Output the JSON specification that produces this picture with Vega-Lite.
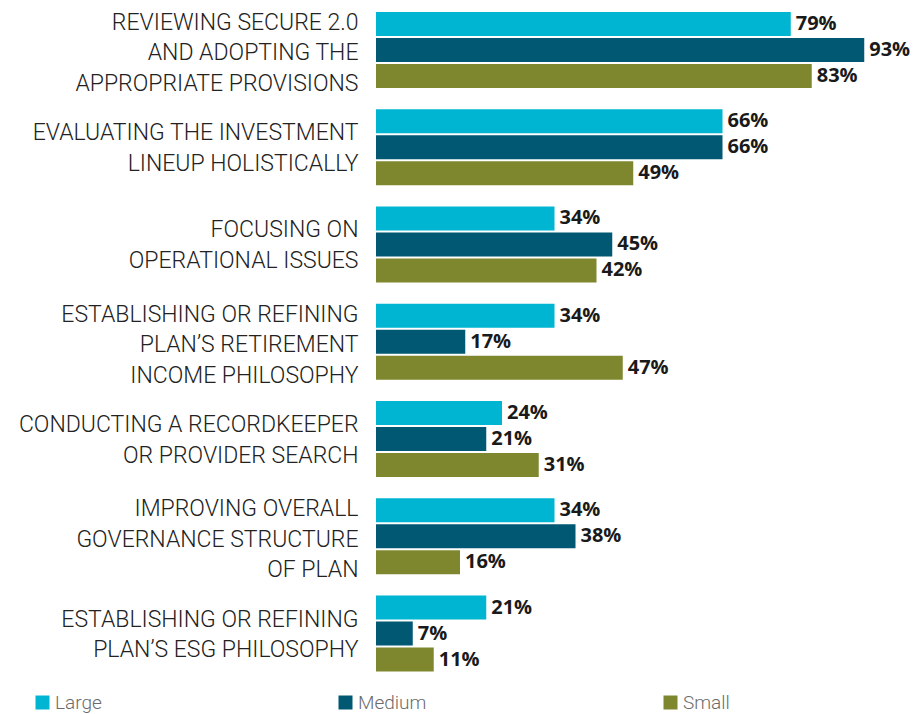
{
  "$schema": "https://vega.github.io/schema/vega-lite/v6.json",
  "width": 525,
  "height": 683.5,
  "autosize": {"type": "none"},
  "padding": {"left": 376, "top": 0, "right": 12, "bottom": 30.5},
  "background": "white",
  "config": {"view": {"stroke": null}, "font": "Roboto"},
  "data": {
    "values": [
      {"cat": "REVIEWING SECURE 2.0|AND ADOPTING THE|APPROPRIATE PROVISIONS", "size": "Large", "value": 0.79},
      {"cat": "REVIEWING SECURE 2.0|AND ADOPTING THE|APPROPRIATE PROVISIONS", "size": "Medium", "value": 0.93},
      {"cat": "REVIEWING SECURE 2.0|AND ADOPTING THE|APPROPRIATE PROVISIONS", "size": "Small", "value": 0.83},
      {"cat": "EVALUATING THE INVESTMENT|LINEUP HOLISTICALLY", "size": "Large", "value": 0.66},
      {"cat": "EVALUATING THE INVESTMENT|LINEUP HOLISTICALLY", "size": "Medium", "value": 0.66},
      {"cat": "EVALUATING THE INVESTMENT|LINEUP HOLISTICALLY", "size": "Small", "value": 0.49},
      {"cat": "FOCUSING ON|OPERATIONAL ISSUES", "size": "Large", "value": 0.34},
      {"cat": "FOCUSING ON|OPERATIONAL ISSUES", "size": "Medium", "value": 0.45},
      {"cat": "FOCUSING ON|OPERATIONAL ISSUES", "size": "Small", "value": 0.42},
      {"cat": "ESTABLISHING OR REFINING|PLAN’S RETIREMENT|INCOME PHILOSOPHY", "size": "Large", "value": 0.34},
      {"cat": "ESTABLISHING OR REFINING|PLAN’S RETIREMENT|INCOME PHILOSOPHY", "size": "Medium", "value": 0.17},
      {"cat": "ESTABLISHING OR REFINING|PLAN’S RETIREMENT|INCOME PHILOSOPHY", "size": "Small", "value": 0.47},
      {"cat": "CONDUCTING A RECORDKEEPER|OR PROVIDER SEARCH", "size": "Large", "value": 0.24},
      {"cat": "CONDUCTING A RECORDKEEPER|OR PROVIDER SEARCH", "size": "Medium", "value": 0.21},
      {"cat": "CONDUCTING A RECORDKEEPER|OR PROVIDER SEARCH", "size": "Small", "value": 0.31},
      {"cat": "IMPROVING OVERALL|GOVERNANCE STRUCTURE|OF PLAN", "size": "Large", "value": 0.34},
      {"cat": "IMPROVING OVERALL|GOVERNANCE STRUCTURE|OF PLAN", "size": "Medium", "value": 0.38},
      {"cat": "IMPROVING OVERALL|GOVERNANCE STRUCTURE|OF PLAN", "size": "Small", "value": 0.16},
      {"cat": "ESTABLISHING OR REFINING|PLAN’S ESG PHILOSOPHY", "size": "Large", "value": 0.21},
      {"cat": "ESTABLISHING OR REFINING|PLAN’S ESG PHILOSOPHY", "size": "Medium", "value": 0.07},
      {"cat": "ESTABLISHING OR REFINING|PLAN’S ESG PHILOSOPHY", "size": "Small", "value": 0.11}
    ]
  },
  "encoding": {
    "y": {
      "field": "cat", "type": "nominal", "sort": null,
      "scale": {"paddingInner": 0.2185, "paddingOuter": 0.123},
      "axis": {
        "title": null, "domain": false, "ticks": false,
        "labelExpr": "split(datum.label, '|')",
        "labelFontSize": 23, "labelColor": "#222222", "labelFont": "Roboto", "labelFontWeight": 300,
        "labelLineHeight": 30.5, "labelPadding": 18, "labelLimit": 400,
        "labelOffset": {"condition": {"test": "length(split(datum.label, '|')) == 3", "value": -27}, "value": -14},
        "labelAlign": "right", "labelBaseline": "middle"
      }
    },
    "yOffset": {
      "field": "size", "type": "nominal", "sort": ["Large", "Medium", "Small"],
      "scale": {"paddingInner": 0.077, "paddingOuter": 0}
    },
    "x": {"field": "value", "type": "quantitative", "scale": {"domain": [0, 1]}, "axis": null}
  },
  "layer": [
    {
      "mark": {"type": "bar"},
      "encoding": {
        "color": {
          "field": "size", "type": "nominal",
          "scale": {"domain": ["Large", "Medium", "Small"], "range": ["#00B5D1", "#005872", "#7F872E"]},
          "legend": {
            "orient": "none", "legendX": -343, "legendY": 693,
            "direction": "horizontal", "title": null,
            "symbolType": "square", "symbolSize": 196, "symbolStrokeWidth": 0,
            "labelFontSize": 19, "labelColor": "#6b6b6b", "labelFont": "Roboto", "labelFontWeight": 300,
            "labelOffset": 3, "gridAlign": "none", "columnPadding": 234
          }
        }
      }
    },
    {
      "mark": {"type": "text", "align": "left", "baseline": "middle", "dx": 5, "fontSize": 20, "fontWeight": "bold", "font": "Open Sans", "color": "#1a1a1a"},
      "encoding": {"text": {"field": "value", "type": "quantitative", "format": ".0%"}}
    }
  ]
}
